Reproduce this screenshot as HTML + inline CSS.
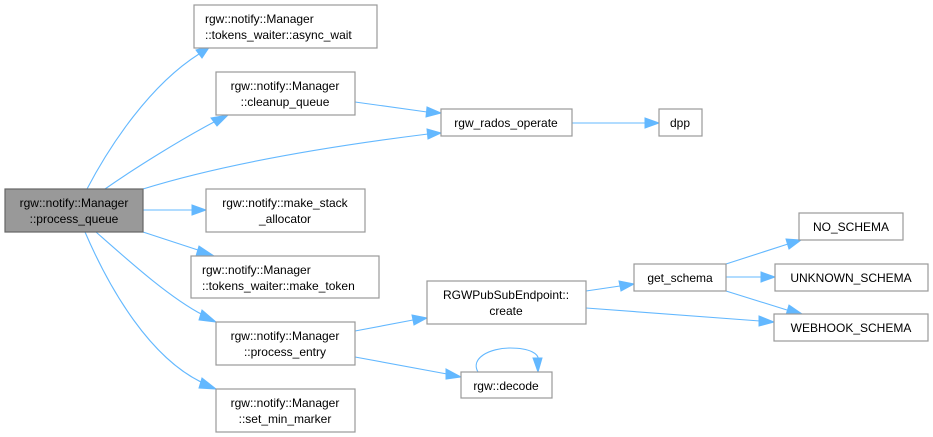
<!DOCTYPE html>
<html><head><meta charset="utf-8"><style>
html,body{margin:0;padding:0;background:#fff;}
svg{display:block;}
text{font-family:"Liberation Sans",Arial,sans-serif;font-size:12px;fill:#000;}
.n{fill:#fff;stroke:#999;stroke-width:1.2;}
.e{fill:none;stroke:#63b8ff;stroke-width:1.1;}
.a{fill:#63b8ff;stroke:#63b8ff;}
</style></head><body>
<svg width="933" height="437" viewBox="0 0 933 437" xmlns="http://www.w3.org/2000/svg">
<!-- edges -->
<path class="e" d="M87,189 C110,145 150,85 199,54"/><polygon class="a" points="196,50 210,46 202,58"/>
<path class="e" d="M105,189 C135,168 180,140 214,122"/><polygon class="a" points="211,118 228,115 217,126"/>
<path class="e" d="M143,189 C230,162 340,145 428,134"/><polygon class="a" points="427,129 441,133 428,139"/>
<path class="e" d="M143,210 L192,210"/><polygon class="a" points="192,205 206,210 192,215"/>
<path class="e" d="M143,232 L201,251"/><polygon class="a" points="199,246 214,256 196,256"/>
<path class="e" d="M96,232 C130,262 170,298 203,315"/><polygon class="a" points="202,310 216,322 199,320"/>
<path class="e" d="M85,232 C110,290 150,358 203,383"/><polygon class="a" points="202,378 216,389 199,388"/>
<path class="e" d="M355,102 L427,112"/><polygon class="a" points="427,107 441,113 426,117"/>
<path class="e" d="M572,123 L645,123"/><polygon class="a" points="645,118 659,123 645,128"/>
<path class="e" d="M355,331 L413,320"/><polygon class="a" points="412,315 427,318 414,325"/>
<path class="e" d="M355,357 L447,374"/><polygon class="a" points="446,369 461,377 446,379"/>
<path class="e" d="M586,291 L620,286"/><polygon class="a" points="619,281 634,284 621,291"/>
<path class="e" d="M586,308 L760,321"/><polygon class="a" points="759,316 774,322 759,326"/>
<path class="e" d="M726,264 L788,244"/><polygon class="a" points="786,239 801,240 789,249"/>
<path class="e" d="M726,277 L761,277"/><polygon class="a" points="761,272 775,277 761,282"/>
<path class="e" d="M726,291 L787,310"/><polygon class="a" points="789,305 802,314 786,315"/>
<path class="e" d="M478,372 C470,358 490,348 510,348 C530,348 540,354 538,361"/><polygon class="a" points="533,358 538,372 542,358"/>
<!-- nodes -->
<rect x="5" y="189" width="138" height="43" fill="#999" stroke="#666" stroke-width="1.2"/>
<text x="74" y="207" text-anchor="middle">rgw::notify::Manager</text><text x="74" y="223" text-anchor="middle">::process_queue</text>
<rect class="n" x="194" y="5" width="183" height="43"/>
<text x="205" y="23">rgw::notify::Manager</text><text x="205" y="39">::tokens_waiter::async_wait</text>
<rect class="n" x="216" y="72" width="139" height="43"/>
<text x="285" y="90" text-anchor="middle">rgw::notify::Manager</text><text x="285" y="106" text-anchor="middle">::cleanup_queue</text>
<rect class="n" x="206" y="189" width="159" height="43"/>
<text x="285" y="207" text-anchor="middle">rgw::notify::make_stack</text><text x="285" y="223" text-anchor="middle">_allocator</text>
<rect class="n" x="191" y="256" width="188" height="42"/>
<text x="202" y="274">rgw::notify::Manager</text><text x="202" y="290">::tokens_waiter::make_token</text>
<rect class="n" x="216" y="322" width="139" height="43"/>
<text x="285" y="340" text-anchor="middle">rgw::notify::Manager</text><text x="285" y="356" text-anchor="middle">::process_entry</text>
<rect class="n" x="216" y="389" width="139" height="43"/>
<text x="285" y="407" text-anchor="middle">rgw::notify::Manager</text><text x="285" y="423" text-anchor="middle">::set_min_marker</text>
<rect class="n" x="441" y="109" width="131" height="27"/>
<text x="506" y="127" text-anchor="middle">rgw_rados_operate</text>
<rect class="n" x="659" y="109" width="43" height="27"/>
<text x="680" y="127" text-anchor="middle">dpp</text>
<rect class="n" x="427" y="281" width="159" height="43"/>
<text x="506" y="299" text-anchor="middle">RGWPubSubEndpoint::</text><text x="506" y="315" text-anchor="middle">create</text>
<rect class="n" x="634" y="264" width="92" height="27"/>
<text x="680" y="282" text-anchor="middle">get_schema</text>
<rect class="n" x="799" y="213" width="104" height="27"/>
<text x="851" y="231" text-anchor="middle">NO_SCHEMA</text>
<rect class="n" x="775" y="264" width="153" height="27"/>
<text x="851" y="282" text-anchor="middle">UNKNOWN_SCHEMA</text>
<rect class="n" x="774" y="314" width="154" height="27"/>
<text x="851" y="332" text-anchor="middle">WEBHOOK_SCHEMA</text>
<rect class="n" x="461" y="372" width="91" height="26"/>
<text x="506" y="390" text-anchor="middle">rgw::decode</text>
</svg>
</body></html>
